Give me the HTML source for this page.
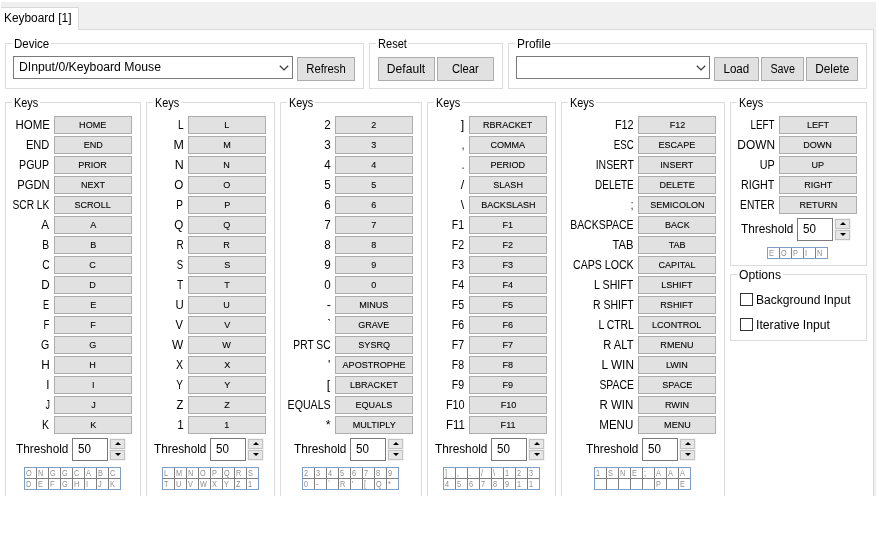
<!DOCTYPE html>
<html lang="en"><head><meta charset="utf-8"><title>Keyboard [1]</title>
<style>
*{box-sizing:border-box;margin:0;padding:0}
html,body{width:877px;height:547px;background:#fff;overflow:hidden}
body{position:relative;font-family:"Liberation Sans",Arial,sans-serif;font-size:12px;color:#000;line-height:16px}
#clip{position:absolute;left:0;top:0;width:877px;height:496px;overflow:hidden}
#strip{position:absolute;left:1px;top:2px;width:875px;height:494px;background:#f0f0f0}
#page{position:absolute;left:1px;top:29px;width:873px;height:480px;background:#fff;border-top:1px solid #d9d9d9;border-right:1px solid #d9d9d9}
#tab{position:absolute;left:1px;top:7px;width:78px;height:23px;background:#fff;border-top:1px solid #d9d9d9;border-right:1px solid #d9d9d9}
.t{position:absolute;white-space:nowrap;height:16px;line-height:16px}
.s{display:inline-block;white-space:nowrap}
.g{position:absolute;border:1px solid #dcdcdc}
.lg{position:absolute;background:#fff;height:16px;line-height:16px;white-space:nowrap;padding:0 2px}
.b{position:absolute;background:#e1e1e1;border:1px solid #adadad;text-align:center;white-space:nowrap}
.kb{position:absolute;width:78px;height:18px;background:#e1e1e1;border:1px solid #adadad;text-align:center;font-size:9.8px;line-height:16px;white-space:nowrap}
.kb span{display:inline-block;transform:scaleX(.925);-webkit-text-stroke:0.1px #000}
.kl{position:absolute;height:16px;line-height:16px;text-align:right;white-space:nowrap;}
.cb{position:absolute;background:#fff;border:1px solid #7a7a7a;height:23px}
.tb{position:absolute;background:#fff;border:1px solid #7a7a7a;width:36px;height:23px}
.sp{position:absolute;width:15px;height:10px;background:#e6e6e6;border:1px solid #c2c2c2;box-shadow:0 0 0 1px #f2f2f2}
.sp i{position:absolute;left:4px;width:0;height:0;border-left:3px solid transparent;border-right:3px solid transparent}
.sp.u i{top:2px;border-bottom:3px solid #000}
.sp.d i{top:2px;border-top:3px solid #000}
.dg{position:absolute;border:1px solid #7f9ec3;background:#808080}
.dg b{position:absolute;width:11px;height:10px;background:#fff;font-weight:normal;line-height:9px;padding-left:1px;overflow:hidden;white-space:pre}
.dg b i{display:inline-block;font-style:normal;font-size:8.5px;line-height:9px;color:#8e8e8e;transform:scaleX(.86);transform-origin:0 50%}
.ck{position:absolute;width:13px;height:13px;background:#fff;border:1px solid #333}
</style></head>
<body>
<div id="clip">
<div id="strip"></div>
<div id="page"></div>
<div id="tab"></div>
<div class="t" style="left:4px;top:10px"><span class="s" style="transform:scaleX(0.991);transform-origin:0 50%">Keyboard [1]</span></div>
<div class="g" style="left:5px;top:43px;width:359px;height:46px"></div>
<div class="lg" style="left:12px;top:36px;width:38.7px"><span class="s" style="transform:scaleX(0.959);transform-origin:0 50%">Device</span></div>
<div class="cb" style="left:13px;top:56px;width:280px"><div class="t" style="left:5px;top:2px"><span class="s" style="transform:scaleX(1.018);transform-origin:0 50%">DInput/0/Keyboard Mouse</span></div><svg style="position:absolute;right:3px;top:8px" width="10" height="6" viewBox="0 0 10 6"><path d="M0.8 0.7 L5 4.9 L9.2 0.7" fill="none" stroke="#3a3a3a" stroke-width="1.25"/></svg></div>
<div class="b" style="left:297px;top:57px;width:58px;height:24px;line-height:22px"><span class="s" style="transform:scaleX(0.941);transform-origin:50% 50%">Refresh</span></div>
<div class="g" style="left:369px;top:43px;width:134px;height:46px"></div>
<div class="lg" style="left:376px;top:36px;width:32.4px"><span class="s" style="transform:scaleX(0.921);transform-origin:0 50%">Reset</span></div>
<div class="b" style="left:378px;top:57px;width:57px;height:24px;line-height:22px"><span class="s" style="transform:scaleX(1.008);transform-origin:50% 50%">Default</span></div>
<div class="b" style="left:437px;top:57px;width:57px;height:24px;line-height:22px"><span class="s" style="transform:scaleX(0.938);transform-origin:50% 50%">Clear</span></div>
<div class="g" style="left:508px;top:43px;width:359px;height:46px"></div>
<div class="lg" style="left:515px;top:36px;width:37.3px"><span class="s" style="transform:scaleX(0.993);transform-origin:0 50%">Profile</span></div>
<div class="cb" style="left:516px;top:56px;width:194px"><div class="t" style="left:5px;top:2px"></div><svg style="position:absolute;right:3px;top:8px" width="10" height="6" viewBox="0 0 10 6"><path d="M0.8 0.7 L5 4.9 L9.2 0.7" fill="none" stroke="#3a3a3a" stroke-width="1.25"/></svg></div>
<div class="b" style="left:714px;top:57px;width:45px;height:24px;line-height:22px"><span class="s" style="transform:scaleX(0.968);transform-origin:50% 50%">Load</span></div>
<div class="b" style="left:761px;top:57px;width:43px;height:24px;line-height:22px"><span class="s" style="transform:scaleX(0.896);transform-origin:50% 50%">Save</span></div>
<div class="b" style="left:806px;top:57px;width:52px;height:24px;line-height:22px"><span class="s" style="transform:scaleX(0.986);transform-origin:50% 50%">Delete</span></div>
<div class="g" style="left:5px;top:102px;width:136px;height:419px"></div>
<div class="lg" style="left:12px;top:95px;width:27.6px"><span class="s" style="transform:scaleX(0.905);transform-origin:0 50%">Keys</span></div>
<div class="kl" style="left:-70.5px;width:120px;top:117px"><span class="s" style="transform:scaleX(0.956);transform-origin:100% 50%">HOME</span></div>
<div class="kb" style="left:54px;top:116px"><span>HOME</span></div>
<div class="kl" style="left:-70.5px;width:120px;top:137px"><span class="s" style="transform:scaleX(0.926);transform-origin:100% 50%">END</span></div>
<div class="kb" style="left:54px;top:136px"><span>END</span></div>
<div class="kl" style="left:-70.5px;width:120px;top:157px"><span class="s" style="transform:scaleX(0.88);transform-origin:100% 50%">PGUP</span></div>
<div class="kb" style="left:54px;top:156px"><span>PRIOR</span></div>
<div class="kl" style="left:-70.5px;width:120px;top:177px"><span class="s" style="transform:scaleX(0.933);transform-origin:100% 50%">PGDN</span></div>
<div class="kb" style="left:54px;top:176px"><span>NEXT</span></div>
<div class="kl" style="left:-70.5px;width:120px;top:197px"><span class="s" style="transform:scaleX(0.85);transform-origin:100% 50%">SCR LK</span></div>
<div class="kb" style="left:54px;top:196px"><span>SCROLL</span></div>
<div class="kl" style="left:-70.5px;width:120px;top:217px"><span class="s" style="transform:scaleX(0.967);transform-origin:100% 50%">A</span></div>
<div class="kb" style="left:54px;top:216px"><span>A</span></div>
<div class="kl" style="left:-70.5px;width:120px;top:237px"><span class="s" style="transform:scaleX(0.859);transform-origin:100% 50%">B</span></div>
<div class="kb" style="left:54px;top:236px"><span>B</span></div>
<div class="kl" style="left:-70.5px;width:120px;top:257px"><span class="s" style="transform:scaleX(0.857);transform-origin:100% 50%">C</span></div>
<div class="kb" style="left:54px;top:256px"><span>C</span></div>
<div class="kl" style="left:-70.5px;width:120px;top:277px"><span class="s" style="transform:scaleX(0.971);transform-origin:100% 50%">D</span></div>
<div class="kb" style="left:54px;top:276px"><span>D</span></div>
<div class="kl" style="left:-70.5px;width:120px;top:297px"><span class="s" style="transform:scaleX(0.759);transform-origin:100% 50%">E</span></div>
<div class="kb" style="left:54px;top:296px"><span>E</span></div>
<div class="kl" style="left:-70.5px;width:120px;top:317px"><span class="s" style="transform:scaleX(0.799);transform-origin:100% 50%">F</span></div>
<div class="kb" style="left:54px;top:316px"><span>F</span></div>
<div class="kl" style="left:-70.5px;width:120px;top:337px"><span class="s" style="transform:scaleX(0.882);transform-origin:100% 50%">G</span></div>
<div class="kb" style="left:54px;top:336px"><span>G</span></div>
<div class="kl" style="left:-70.5px;width:120px;top:357px"><span class="s" style="transform:scaleX(0.983);transform-origin:100% 50%">H</span></div>
<div class="kb" style="left:54px;top:356px"><span>H</span></div>
<div class="kl" style="left:-70.5px;width:120px;top:377px"><span class="s" style="transform:scaleX(0.957);transform-origin:100% 50%">I</span></div>
<div class="kb" style="left:54px;top:376px"><span>I</span></div>
<div class="kl" style="left:-70.5px;width:120px;top:397px"><span class="s" style="transform:scaleX(0.74);transform-origin:100% 50%">J</span></div>
<div class="kb" style="left:54px;top:396px"><span>J</span></div>
<div class="kl" style="left:-70.5px;width:120px;top:417px"><span class="s" style="transform:scaleX(0.87);transform-origin:100% 50%">K</span></div>
<div class="kb" style="left:54px;top:416px"><span>K</span></div>
<div class="t" style="left:16px;top:441px"><span class="s" style="transform:scaleX(0.982);transform-origin:0 50%">Threshold</span></div>
<div class="tb" style="left:72px;top:438px"><div class="t" style="left:5px;top:2px"><span class="s" style="transform:scaleX(0.969);transform-origin:0 50%">50</span></div></div>
<div class="sp u" style="left:110px;top:439px"><i></i></div>
<div class="sp d" style="left:110px;top:450px"><i></i></div>
<div class="dg" style="left:24px;top:467px;width:97px;height:23px"><b style="left:0px;top:0px"><i>O</i></b><b style="left:12px;top:0px"><i>N</i></b><b style="left:24px;top:0px"><i>G</i></b><b style="left:36px;top:0px"><i>G</i></b><b style="left:48px;top:0px"><i>C</i></b><b style="left:60px;top:0px"><i>A</i></b><b style="left:72px;top:0px"><i>B</i></b><b style="left:84px;top:0px"><i>C</i></b><b style="left:0px;top:11px"><i>D</i></b><b style="left:12px;top:11px"><i>E</i></b><b style="left:24px;top:11px"><i>F</i></b><b style="left:36px;top:11px"><i>G</i></b><b style="left:48px;top:11px"><i>H</i></b><b style="left:60px;top:11px"><i>I</i></b><b style="left:72px;top:11px"><i>J</i></b><b style="left:84px;top:11px"><i>K</i></b></div>
<div class="g" style="left:146px;top:102px;width:129px;height:419px"></div>
<div class="lg" style="left:153px;top:95px;width:27.6px"><span class="s" style="transform:scaleX(0.905);transform-origin:0 50%">Keys</span></div>
<div class="kl" style="left:63.5px;width:120px;top:117px"><span class="s" style="transform:scaleX(0.845);transform-origin:100% 50%">L</span></div>
<div class="kb" style="left:188px;top:116px"><span>L</span></div>
<div class="kl" style="left:63.5px;width:120px;top:137px"><span class="s" style="transform:scaleX(1.04);transform-origin:100% 50%">M</span></div>
<div class="kb" style="left:188px;top:136px"><span>M</span></div>
<div class="kl" style="left:63.5px;width:120px;top:157px"><span class="s" style="transform:scaleX(1.036);transform-origin:100% 50%">N</span></div>
<div class="kb" style="left:188px;top:156px"><span>N</span></div>
<div class="kl" style="left:63.5px;width:120px;top:177px"><span class="s" style="transform:scaleX(0.969);transform-origin:100% 50%">O</span></div>
<div class="kb" style="left:188px;top:176px"><span>O</span></div>
<div class="kl" style="left:63.5px;width:120px;top:197px"><span class="s" style="transform:scaleX(0.84);transform-origin:100% 50%">P</span></div>
<div class="kb" style="left:188px;top:196px"><span>P</span></div>
<div class="kl" style="left:63.5px;width:120px;top:217px"><span class="s" style="transform:scaleX(0.969);transform-origin:100% 50%">Q</span></div>
<div class="kb" style="left:188px;top:216px"><span>Q</span></div>
<div class="kl" style="left:63.5px;width:120px;top:237px"><span class="s" style="transform:scaleX(0.828);transform-origin:100% 50%">R</span></div>
<div class="kb" style="left:188px;top:236px"><span>R</span></div>
<div class="kl" style="left:63.5px;width:120px;top:257px"><span class="s" style="transform:scaleX(0.796);transform-origin:100% 50%">S</span></div>
<div class="kb" style="left:188px;top:256px"><span>S</span></div>
<div class="kl" style="left:63.5px;width:120px;top:277px"><span class="s" style="transform:scaleX(0.858);transform-origin:100% 50%">T</span></div>
<div class="kb" style="left:188px;top:276px"><span>T</span></div>
<div class="kl" style="left:63.5px;width:120px;top:297px"><span class="s" style="transform:scaleX(0.951);transform-origin:100% 50%">U</span></div>
<div class="kb" style="left:188px;top:296px"><span>U</span></div>
<div class="kl" style="left:63.5px;width:120px;top:317px"><span class="s" style="transform:scaleX(0.931);transform-origin:100% 50%">V</span></div>
<div class="kb" style="left:188px;top:316px"><span>V</span></div>
<div class="kl" style="left:63.5px;width:120px;top:337px"><span class="s" style="transform:scaleX(0.99);transform-origin:100% 50%">W</span></div>
<div class="kb" style="left:188px;top:336px"><span>W</span></div>
<div class="kl" style="left:63.5px;width:120px;top:357px"><span class="s" style="transform:scaleX(0.885);transform-origin:100% 50%">X</span></div>
<div class="kb" style="left:188px;top:356px"><span>X</span></div>
<div class="kl" style="left:63.5px;width:120px;top:377px"><span class="s" style="transform:scaleX(0.829);transform-origin:100% 50%">Y</span></div>
<div class="kb" style="left:188px;top:376px"><span>Y</span></div>
<div class="kl" style="left:63.5px;width:120px;top:397px"><span class="s" style="transform:scaleX(0.933);transform-origin:100% 50%">Z</span></div>
<div class="kb" style="left:188px;top:396px"><span>Z</span></div>
<div class="kl" style="left:63.5px;width:120px;top:417px"><span class="s" style="transform:scaleX(0.969);transform-origin:100% 50%">1</span></div>
<div class="kb" style="left:188px;top:416px"><span>1</span></div>
<div class="t" style="left:154px;top:441px"><span class="s" style="transform:scaleX(0.982);transform-origin:0 50%">Threshold</span></div>
<div class="tb" style="left:210px;top:438px"><div class="t" style="left:5px;top:2px"><span class="s" style="transform:scaleX(0.969);transform-origin:0 50%">50</span></div></div>
<div class="sp u" style="left:248px;top:439px"><i></i></div>
<div class="sp d" style="left:248px;top:450px"><i></i></div>
<div class="dg" style="left:162px;top:467px;width:97px;height:23px"><b style="left:0px;top:0px"><i>L</i></b><b style="left:12px;top:0px"><i>M</i></b><b style="left:24px;top:0px"><i>N</i></b><b style="left:36px;top:0px"><i>O</i></b><b style="left:48px;top:0px"><i>P</i></b><b style="left:60px;top:0px"><i>Q</i></b><b style="left:72px;top:0px"><i>R</i></b><b style="left:84px;top:0px"><i>S</i></b><b style="left:0px;top:11px"><i>T</i></b><b style="left:12px;top:11px"><i>U</i></b><b style="left:24px;top:11px"><i>V</i></b><b style="left:36px;top:11px"><i>W</i></b><b style="left:48px;top:11px"><i>X</i></b><b style="left:60px;top:11px"><i>Y</i></b><b style="left:72px;top:11px"><i>Z</i></b><b style="left:84px;top:11px"><i>1</i></b></div>
<div class="g" style="left:280px;top:102px;width:142px;height:419px"></div>
<div class="lg" style="left:287px;top:95px;width:27.6px"><span class="s" style="transform:scaleX(0.905);transform-origin:0 50%">Keys</span></div>
<div class="kl" style="left:210.5px;width:120px;top:117px"><span class="s" style="transform:scaleX(0.969);transform-origin:100% 50%">2</span></div>
<div class="kb" style="left:335px;top:116px"><span>2</span></div>
<div class="kl" style="left:210.5px;width:120px;top:137px"><span class="s" style="transform:scaleX(0.969);transform-origin:100% 50%">3</span></div>
<div class="kb" style="left:335px;top:136px"><span>3</span></div>
<div class="kl" style="left:210.5px;width:120px;top:157px"><span class="s" style="transform:scaleX(0.969);transform-origin:100% 50%">4</span></div>
<div class="kb" style="left:335px;top:156px"><span>4</span></div>
<div class="kl" style="left:210.5px;width:120px;top:177px"><span class="s" style="transform:scaleX(0.969);transform-origin:100% 50%">5</span></div>
<div class="kb" style="left:335px;top:176px"><span>5</span></div>
<div class="kl" style="left:210.5px;width:120px;top:197px"><span class="s" style="transform:scaleX(0.969);transform-origin:100% 50%">6</span></div>
<div class="kb" style="left:335px;top:196px"><span>6</span></div>
<div class="kl" style="left:210.5px;width:120px;top:217px"><span class="s" style="transform:scaleX(0.969);transform-origin:100% 50%">7</span></div>
<div class="kb" style="left:335px;top:216px"><span>7</span></div>
<div class="kl" style="left:210.5px;width:120px;top:237px"><span class="s" style="transform:scaleX(0.969);transform-origin:100% 50%">8</span></div>
<div class="kb" style="left:335px;top:236px"><span>8</span></div>
<div class="kl" style="left:210.5px;width:120px;top:257px"><span class="s" style="transform:scaleX(0.969);transform-origin:100% 50%">9</span></div>
<div class="kb" style="left:335px;top:256px"><span>9</span></div>
<div class="kl" style="left:210.5px;width:120px;top:277px"><span class="s" style="transform:scaleX(0.969);transform-origin:100% 50%">0</span></div>
<div class="kb" style="left:335px;top:276px"><span>0</span></div>
<div class="kl" style="left:210.5px;width:120px;top:297px"><span class="s" style="transform:scaleX(1.04);transform-origin:100% 50%">-</span></div>
<div class="kb" style="left:335px;top:296px"><span>MINUS</span></div>
<div class="kl" style="left:210.5px;width:120px;top:317px"><span class="s" style="transform:scaleX(0.805);transform-origin:100% 50%">`</span></div>
<div class="kb" style="left:335px;top:316px"><span>GRAVE</span></div>
<div class="kl" style="left:210.5px;width:120px;top:337px"><span class="s" style="transform:scaleX(0.855);transform-origin:100% 50%">PRT SC</span></div>
<div class="kb" style="left:335px;top:336px"><span>SYSRQ</span></div>
<div class="kl" style="left:210.5px;width:120px;top:357px"><span class="s" style="transform:scaleX(1.04);transform-origin:100% 50%">'</span></div>
<div class="kb" style="left:335px;top:356px"><span>APOSTROPHE</span></div>
<div class="kl" style="left:210.5px;width:120px;top:377px"><span class="s" style="transform:scaleX(1.04);transform-origin:100% 50%">[</span></div>
<div class="kb" style="left:335px;top:376px"><span>LBRACKET</span></div>
<div class="kl" style="left:210.5px;width:120px;top:397px"><span class="s" style="transform:scaleX(0.886);transform-origin:100% 50%">EQUALS</span></div>
<div class="kb" style="left:335px;top:396px"><span>EQUALS</span></div>
<div class="kl" style="left:210.5px;width:120px;top:417px"><span class="s" style="transform:scaleX(1.04);transform-origin:100% 50%">*</span></div>
<div class="kb" style="left:335px;top:416px"><span>MULTIPLY</span></div>
<div class="t" style="left:294px;top:441px"><span class="s" style="transform:scaleX(0.982);transform-origin:0 50%">Threshold</span></div>
<div class="tb" style="left:350px;top:438px"><div class="t" style="left:5px;top:2px"><span class="s" style="transform:scaleX(0.969);transform-origin:0 50%">50</span></div></div>
<div class="sp u" style="left:388px;top:439px"><i></i></div>
<div class="sp d" style="left:388px;top:450px"><i></i></div>
<div class="dg" style="left:302px;top:467px;width:97px;height:23px"><b style="left:0px;top:0px"><i>2</i></b><b style="left:12px;top:0px"><i>3</i></b><b style="left:24px;top:0px"><i>4</i></b><b style="left:36px;top:0px"><i>5</i></b><b style="left:48px;top:0px"><i>6</i></b><b style="left:60px;top:0px"><i>7</i></b><b style="left:72px;top:0px"><i>8</i></b><b style="left:84px;top:0px"><i>9</i></b><b style="left:0px;top:11px"><i>0</i></b><b style="left:12px;top:11px"><i>-</i></b><b style="left:24px;top:11px"><i>`</i></b><b style="left:36px;top:11px"><i>R</i></b><b style="left:48px;top:11px"><i>'</i></b><b style="left:60px;top:11px"><i>[</i></b><b style="left:72px;top:11px"><i>Q</i></b><b style="left:84px;top:11px"><i>*</i></b></div>
<div class="g" style="left:427px;top:102px;width:129px;height:419px"></div>
<div class="lg" style="left:434px;top:95px;width:27.6px"><span class="s" style="transform:scaleX(0.905);transform-origin:0 50%">Keys</span></div>
<div class="kl" style="left:344.5px;width:120px;top:117px"><span class="s" style="transform:scaleX(1.04);transform-origin:100% 50%">]</span></div>
<div class="kb" style="left:469px;top:116px"><span>RBRACKET</span></div>
<div class="kl" style="left:344.5px;width:120px;top:137px"><span class="s" style="transform:scaleX(0.781);transform-origin:100% 50%">,</span></div>
<div class="kb" style="left:469px;top:136px"><span>COMMA</span></div>
<div class="kl" style="left:344.5px;width:120px;top:157px"><span class="s" style="transform:scaleX(0.781);transform-origin:100% 50%">.</span></div>
<div class="kb" style="left:469px;top:156px"><span>PERIOD</span></div>
<div class="kl" style="left:344.5px;width:120px;top:177px"><span class="s" style="transform:scaleX(1.04);transform-origin:100% 50%">/</span></div>
<div class="kb" style="left:469px;top:176px"><span>SLASH</span></div>
<div class="kl" style="left:344.5px;width:120px;top:197px"><span class="s" style="transform:scaleX(1.04);transform-origin:100% 50%">\</span></div>
<div class="kb" style="left:469px;top:196px"><span>BACKSLASH</span></div>
<div class="kl" style="left:344.5px;width:120px;top:217px"><span class="s" style="transform:scaleX(0.88);transform-origin:100% 50%">F1</span></div>
<div class="kb" style="left:469px;top:216px"><span>F1</span></div>
<div class="kl" style="left:344.5px;width:120px;top:237px"><span class="s" style="transform:scaleX(0.88);transform-origin:100% 50%">F2</span></div>
<div class="kb" style="left:469px;top:236px"><span>F2</span></div>
<div class="kl" style="left:344.5px;width:120px;top:257px"><span class="s" style="transform:scaleX(0.88);transform-origin:100% 50%">F3</span></div>
<div class="kb" style="left:469px;top:256px"><span>F3</span></div>
<div class="kl" style="left:344.5px;width:120px;top:277px"><span class="s" style="transform:scaleX(0.88);transform-origin:100% 50%">F4</span></div>
<div class="kb" style="left:469px;top:276px"><span>F4</span></div>
<div class="kl" style="left:344.5px;width:120px;top:297px"><span class="s" style="transform:scaleX(0.88);transform-origin:100% 50%">F5</span></div>
<div class="kb" style="left:469px;top:296px"><span>F5</span></div>
<div class="kl" style="left:344.5px;width:120px;top:317px"><span class="s" style="transform:scaleX(0.88);transform-origin:100% 50%">F6</span></div>
<div class="kb" style="left:469px;top:316px"><span>F6</span></div>
<div class="kl" style="left:344.5px;width:120px;top:337px"><span class="s" style="transform:scaleX(0.88);transform-origin:100% 50%">F7</span></div>
<div class="kb" style="left:469px;top:336px"><span>F7</span></div>
<div class="kl" style="left:344.5px;width:120px;top:357px"><span class="s" style="transform:scaleX(0.88);transform-origin:100% 50%">F8</span></div>
<div class="kb" style="left:469px;top:356px"><span>F8</span></div>
<div class="kl" style="left:344.5px;width:120px;top:377px"><span class="s" style="transform:scaleX(0.88);transform-origin:100% 50%">F9</span></div>
<div class="kb" style="left:469px;top:376px"><span>F9</span></div>
<div class="kl" style="left:344.5px;width:120px;top:397px"><span class="s" style="transform:scaleX(0.909);transform-origin:100% 50%">F10</span></div>
<div class="kb" style="left:469px;top:396px"><span>F10</span></div>
<div class="kl" style="left:344.5px;width:120px;top:417px"><span class="s" style="transform:scaleX(0.95);transform-origin:100% 50%">F11</span></div>
<div class="kb" style="left:469px;top:416px"><span>F11</span></div>
<div class="t" style="left:435px;top:441px"><span class="s" style="transform:scaleX(0.982);transform-origin:0 50%">Threshold</span></div>
<div class="tb" style="left:491px;top:438px"><div class="t" style="left:5px;top:2px"><span class="s" style="transform:scaleX(0.969);transform-origin:0 50%">50</span></div></div>
<div class="sp u" style="left:529px;top:439px"><i></i></div>
<div class="sp d" style="left:529px;top:450px"><i></i></div>
<div class="dg" style="left:443px;top:467px;width:97px;height:23px"><b style="left:0px;top:0px"><i>]</i></b><b style="left:12px;top:0px"><i>,</i></b><b style="left:24px;top:0px"><i>.</i></b><b style="left:36px;top:0px"><i>/</i></b><b style="left:48px;top:0px"><i>\</i></b><b style="left:60px;top:0px"><i>1</i></b><b style="left:72px;top:0px"><i>2</i></b><b style="left:84px;top:0px"><i>3</i></b><b style="left:0px;top:11px"><i>4</i></b><b style="left:12px;top:11px"><i>5</i></b><b style="left:24px;top:11px"><i>6</i></b><b style="left:36px;top:11px"><i>7</i></b><b style="left:48px;top:11px"><i>8</i></b><b style="left:60px;top:11px"><i>9</i></b><b style="left:72px;top:11px"><i>1</i></b><b style="left:84px;top:11px"><i>1</i></b></div>
<div class="g" style="left:561px;top:102px;width:164px;height:419px"></div>
<div class="lg" style="left:568px;top:95px;width:27.6px"><span class="s" style="transform:scaleX(0.905);transform-origin:0 50%">Keys</span></div>
<div class="kl" style="left:513.5px;width:120px;top:117px"><span class="s" style="transform:scaleX(0.909);transform-origin:100% 50%">F12</span></div>
<div class="kb" style="left:638px;top:116px"><span>F12</span></div>
<div class="kl" style="left:513.5px;width:120px;top:137px"><span class="s" style="transform:scaleX(0.805);transform-origin:100% 50%">ESC</span></div>
<div class="kb" style="left:638px;top:136px"><span>ESCAPE</span></div>
<div class="kl" style="left:513.5px;width:120px;top:157px"><span class="s" style="transform:scaleX(0.87);transform-origin:100% 50%">INSERT</span></div>
<div class="kb" style="left:638px;top:156px"><span>INSERT</span></div>
<div class="kl" style="left:513.5px;width:120px;top:177px"><span class="s" style="transform:scaleX(0.826);transform-origin:100% 50%">DELETE</span></div>
<div class="kb" style="left:638px;top:176px"><span>DELETE</span></div>
<div class="kl" style="left:513.5px;width:120px;top:197px"><span class="s" style="transform:scaleX(0.781);transform-origin:100% 50%">;</span></div>
<div class="kb" style="left:638px;top:196px"><span>SEMICOLON</span></div>
<div class="kl" style="left:513.5px;width:120px;top:217px"><span class="s" style="transform:scaleX(0.874);transform-origin:100% 50%">BACKSPACE</span></div>
<div class="kb" style="left:638px;top:216px"><span>BACK</span></div>
<div class="kl" style="left:513.5px;width:120px;top:237px"><span class="s" style="transform:scaleX(0.931);transform-origin:100% 50%">TAB</span></div>
<div class="kb" style="left:638px;top:236px"><span>TAB</span></div>
<div class="kl" style="left:513.5px;width:120px;top:257px"><span class="s" style="transform:scaleX(0.883);transform-origin:100% 50%">CAPS LOCK</span></div>
<div class="kb" style="left:638px;top:256px"><span>CAPITAL</span></div>
<div class="kl" style="left:513.5px;width:120px;top:277px"><span class="s" style="transform:scaleX(0.885);transform-origin:100% 50%">L SHIFT</span></div>
<div class="kb" style="left:638px;top:276px"><span>LSHIFT</span></div>
<div class="kl" style="left:513.5px;width:120px;top:297px"><span class="s" style="transform:scaleX(0.872);transform-origin:100% 50%">R SHIFT</span></div>
<div class="kb" style="left:638px;top:296px"><span>RSHIFT</span></div>
<div class="kl" style="left:513.5px;width:120px;top:317px"><span class="s" style="transform:scaleX(0.867);transform-origin:100% 50%">L CTRL</span></div>
<div class="kb" style="left:638px;top:316px"><span>LCONTROL</span></div>
<div class="kl" style="left:513.5px;width:120px;top:337px"><span class="s" style="transform:scaleX(0.928);transform-origin:100% 50%">R ALT</span></div>
<div class="kb" style="left:638px;top:336px"><span>RMENU</span></div>
<div class="kl" style="left:513.5px;width:120px;top:357px"><span class="s" style="transform:scaleX(0.982);transform-origin:100% 50%">L WIN</span></div>
<div class="kb" style="left:638px;top:356px"><span>LWIN</span></div>
<div class="kl" style="left:513.5px;width:120px;top:377px"><span class="s" style="transform:scaleX(0.863);transform-origin:100% 50%">SPACE</span></div>
<div class="kb" style="left:638px;top:376px"><span>SPACE</span></div>
<div class="kl" style="left:513.5px;width:120px;top:397px"><span class="s" style="transform:scaleX(0.958);transform-origin:100% 50%">R WIN</span></div>
<div class="kb" style="left:638px;top:396px"><span>RWIN</span></div>
<div class="kl" style="left:513.5px;width:120px;top:417px"><span class="s" style="transform:scaleX(0.964);transform-origin:100% 50%">MENU</span></div>
<div class="kb" style="left:638px;top:416px"><span>MENU</span></div>
<div class="t" style="left:586px;top:441px"><span class="s" style="transform:scaleX(0.982);transform-origin:0 50%">Threshold</span></div>
<div class="tb" style="left:642px;top:438px"><div class="t" style="left:5px;top:2px"><span class="s" style="transform:scaleX(0.969);transform-origin:0 50%">50</span></div></div>
<div class="sp u" style="left:680px;top:439px"><i></i></div>
<div class="sp d" style="left:680px;top:450px"><i></i></div>
<div class="dg" style="left:594px;top:467px;width:97px;height:23px"><b style="left:0px;top:0px"><i>1</i></b><b style="left:12px;top:0px"><i>S</i></b><b style="left:24px;top:0px"><i>N</i></b><b style="left:36px;top:0px"><i>E</i></b><b style="left:48px;top:0px"><i>;</i></b><b style="left:60px;top:0px"><i>A</i></b><b style="left:72px;top:0px"><i>A</i></b><b style="left:84px;top:0px"><i>A</i></b><b style="left:0px;top:11px"><i> </i></b><b style="left:12px;top:11px"><i> </i></b><b style="left:24px;top:11px"><i> </i></b><b style="left:36px;top:11px"><i> </i></b><b style="left:48px;top:11px"><i> </i></b><b style="left:60px;top:11px"><i>P</i></b><b style="left:72px;top:11px"><i> </i></b><b style="left:84px;top:11px"><i>E</i></b></div>
<div class="g" style="left:730px;top:102px;width:137px;height:164px"></div>
<div class="lg" style="left:737px;top:95px;width:27.6px"><span class="s" style="transform:scaleX(0.905);transform-origin:0 50%">Keys</span></div>
<div class="kl" style="left:654.5px;width:120px;top:117px"><span class="s" style="transform:scaleX(0.813);transform-origin:100% 50%">LEFT</span></div>
<div class="kb" style="left:779px;top:116px"><span>LEFT</span></div>
<div class="kl" style="left:654.5px;width:120px;top:137px"><span class="s" style="transform:scaleX(0.991);transform-origin:100% 50%">DOWN</span></div>
<div class="kb" style="left:779px;top:136px"><span>DOWN</span></div>
<div class="kl" style="left:654.5px;width:120px;top:157px"><span class="s" style="transform:scaleX(0.898);transform-origin:100% 50%">UP</span></div>
<div class="kb" style="left:779px;top:156px"><span>UP</span></div>
<div class="kl" style="left:654.5px;width:120px;top:177px"><span class="s" style="transform:scaleX(0.895);transform-origin:100% 50%">RIGHT</span></div>
<div class="kb" style="left:779px;top:176px"><span>RIGHT</span></div>
<div class="kl" style="left:654.5px;width:120px;top:197px"><span class="s" style="transform:scaleX(0.85);transform-origin:100% 50%">ENTER</span></div>
<div class="kb" style="left:779px;top:196px"><span>RETURN</span></div>
<div class="t" style="left:741px;top:221px"><span class="s" style="transform:scaleX(0.982);transform-origin:0 50%">Threshold</span></div>
<div class="tb" style="left:797px;top:218px"><div class="t" style="left:5px;top:2px"><span class="s" style="transform:scaleX(0.969);transform-origin:0 50%">50</span></div></div>
<div class="sp u" style="left:835px;top:219px"><i></i></div>
<div class="sp d" style="left:835px;top:230px"><i></i></div>
<div class="dg" style="left:767px;top:247px;width:61px;height:12px"><b style="left:0px;top:0px"><i>E</i></b><b style="left:12px;top:0px"><i>O</i></b><b style="left:24px;top:0px"><i>P</i></b><b style="left:36px;top:0px"><i>I</i></b><b style="left:48px;top:0px"><i>N</i></b></div>
<div class="g" style="left:730px;top:274px;width:137px;height:67px"></div>
<div class="lg" style="left:737px;top:267px;width:45.5px"><span class="s" style="transform:scaleX(1.015);transform-origin:0 50%">Options</span></div>
<div class="ck" style="left:740px;top:293px"></div>
<div class="t" style="left:756px;top:292px"><span class="s" style="transform:scaleX(1.005);transform-origin:0 50%">Background Input</span></div>
<div class="ck" style="left:740px;top:318px"></div>
<div class="t" style="left:756px;top:317px"><span class="s" style="transform:scaleX(1.018);transform-origin:0 50%">Iterative Input</span></div>
</div>
</body></html>
